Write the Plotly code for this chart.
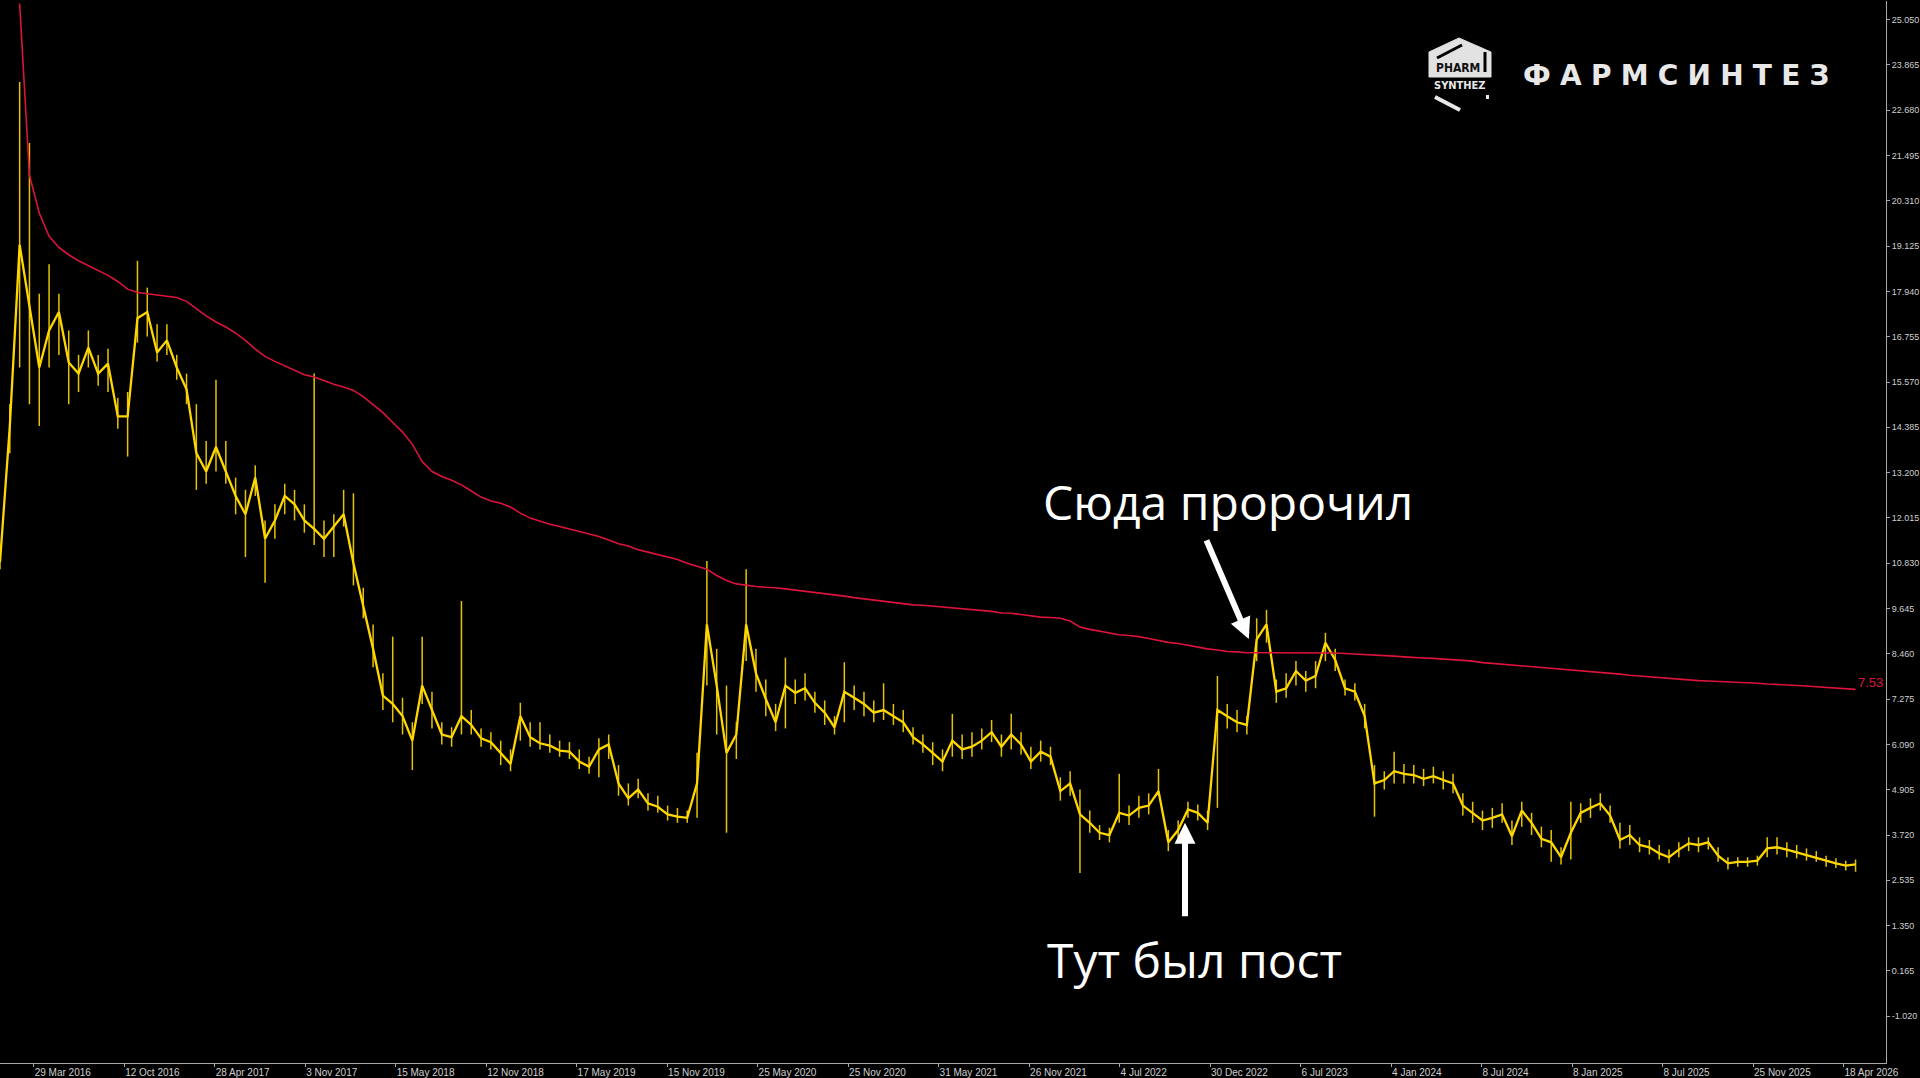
import plotly.graph_objects as go

# ---------------- data ----------------
close = [
    10.86, 14.42, 19.16, 17.56, 15.95, 16.92, 17.40, 16.08, 15.79, 16.47,
    15.79, 16.05, 14.67, 14.67, 17.24, 17.40, 16.34, 16.66, 15.95, 15.38,
    13.71, 13.23, 13.87, 13.23, 12.59, 12.11, 13.07, 11.47, 11.95, 12.59,
    12.37, 11.95, 11.73, 11.47, 11.79, 12.11, 10.83, 9.71, 8.59, 7.37,
    7.15, 6.83, 6.19, 7.63, 6.99, 6.35, 6.28, 6.83, 6.60, 6.25,
    6.15, 5.87, 5.58, 6.83, 6.28, 6.12, 6.06, 5.93, 5.90, 5.64,
    5.51, 5.96, 6.09, 5.07, 4.68, 4.91, 4.55, 4.46, 4.26, 4.20,
    4.17, 5.07, 9.23, 7.63, 5.87, 6.35, 9.23, 7.95, 7.28, 6.67,
    7.63, 7.44, 7.56, 7.18, 6.92, 6.54, 7.47, 7.31, 7.15, 6.92,
    6.99, 6.83, 6.67, 6.28, 6.09, 5.87, 5.64, 6.19, 5.96, 6.03,
    6.19, 6.41, 6.03, 6.35, 6.09, 5.64, 5.90, 5.77, 4.87, 5.07,
    4.26, 4.04, 3.78, 3.72, 4.30, 4.23, 4.43, 4.49, 4.87, 3.53,
    3.85, 4.39, 4.30, 4.04, 6.99, 6.83, 6.67, 6.60, 8.84, 9.23,
    7.47, 7.56, 8.01, 7.76, 7.88, 8.75, 8.30, 7.56, 7.47, 6.83,
    5.07, 5.16, 5.39, 5.32, 5.29, 5.19, 5.26, 5.16, 5.07, 4.49,
    4.30, 4.10, 4.17, 4.26, 3.69, 4.36, 4.04, 3.62, 3.53, 3.14,
    3.78, 4.30, 4.43, 4.55, 4.23, 3.59, 3.72, 3.46, 3.40, 3.24,
    3.14, 3.34, 3.50, 3.46, 3.53, 3.18, 2.98, 3.02, 3.02, 3.05,
    3.37, 3.40, 3.34, 3.27, 3.21, 3.14, 3.05, 2.98, 2.92, 2.95,
]
high = [
    11.16, 14.99, 23.42, 21.82, 17.88, 18.65, 17.88, 16.92, 16.28, 16.92,
    16.28, 16.44, 15.15, 15.31, 18.74, 18.04, 17.08, 17.08, 16.28, 15.79,
    14.99, 14.03, 15.63, 14.03, 13.07, 12.75, 13.39, 11.95, 12.37, 12.91,
    12.75, 12.37, 15.79, 11.95, 12.11, 12.75, 12.66, 10.19, 9.23, 7.95,
    8.91, 7.31, 6.67, 8.91, 7.47, 6.67, 6.54, 9.84, 6.99, 6.51,
    6.41, 6.19, 5.96, 7.18, 6.67, 6.67, 6.35, 6.19, 6.15, 5.96,
    5.77, 6.25, 6.35, 5.55, 5.07, 5.19, 4.81, 4.75, 4.49, 4.43,
    4.36, 5.87, 10.89, 8.59, 7.63, 6.67, 10.67, 8.59, 7.79, 7.15,
    8.36, 7.79, 7.95, 7.47, 7.24, 6.83, 8.24, 7.63, 7.47, 7.24,
    7.69, 7.15, 6.99, 6.54, 6.35, 6.15, 5.96, 6.89, 6.35, 6.41,
    6.51, 6.73, 6.35, 6.89, 6.41, 6.03, 6.19, 6.03, 5.23, 5.39,
    4.91, 4.36, 3.98, 3.91, 5.32, 4.49, 4.75, 4.81, 5.45, 3.85,
    4.10, 4.59, 4.52, 4.36, 7.88, 7.15, 6.99, 6.83, 9.39, 9.61,
    7.79, 7.95, 8.27, 8.01, 8.27, 9.01, 8.59, 7.79, 7.69, 7.15,
    5.55, 5.39, 5.90, 5.58, 5.55, 5.45, 5.51, 5.39, 5.32, 4.81,
    4.59, 4.36, 4.43, 4.55, 4.10, 4.59, 4.30, 3.94, 3.85, 3.40,
    4.59, 4.55, 4.68, 4.81, 4.49, 4.04, 3.98, 3.66, 3.59, 3.46,
    3.34, 3.53, 3.66, 3.66, 3.66, 3.40, 3.14, 3.14, 3.14, 3.18,
    3.66, 3.66, 3.53, 3.46, 3.37, 3.30, 3.18, 3.11, 3.05, 3.08,
]
low = [
    10.67, 13.71, 15.95, 14.99, 14.42, 15.95, 16.28, 14.99, 15.31, 15.95,
    15.47, 15.31, 14.35, 13.62, 16.60, 16.76, 16.11, 16.28, 15.63, 14.99,
    12.75, 12.91, 13.23, 12.91, 12.11, 10.99, 12.59, 10.32, 11.47, 12.11,
    11.95, 11.63, 11.31, 10.99, 10.99, 11.79, 10.25, 9.39, 8.11, 6.99,
    6.67, 6.35, 5.42, 7.15, 6.51, 6.09, 6.03, 6.35, 6.35, 6.03,
    5.96, 5.55, 5.39, 6.19, 6.03, 5.96, 5.87, 5.77, 5.71, 5.45,
    5.32, 5.23, 5.71, 4.75, 4.49, 4.68, 4.36, 4.30, 4.10, 4.04,
    4.04, 4.17, 7.63, 6.35, 3.78, 5.71, 8.27, 7.47, 6.83, 6.44,
    6.51, 7.15, 7.24, 6.92, 6.60, 6.35, 6.67, 6.99, 6.83, 6.67,
    6.73, 6.60, 6.41, 6.09, 5.87, 5.55, 5.39, 5.77, 5.71, 5.77,
    5.96, 6.15, 5.77, 5.96, 5.83, 5.45, 5.64, 5.55, 4.62, 4.75,
    2.73, 3.78, 3.59, 3.53, 4.04, 3.98, 4.17, 4.26, 4.75, 3.30,
    3.59, 4.17, 4.10, 3.85, 4.43, 6.51, 6.41, 6.35, 8.27, 8.75,
    7.18, 7.31, 7.63, 7.47, 7.56, 8.27, 8.01, 7.37, 7.24, 6.51,
    4.20, 4.91, 5.07, 5.07, 5.07, 5.00, 5.07, 4.91, 4.81, 4.23,
    4.04, 3.85, 3.91, 4.04, 3.46, 3.94, 3.72, 3.40, 3.02, 2.95,
    3.08, 4.04, 4.17, 4.36, 4.04, 3.37, 3.46, 3.27, 3.21, 3.08,
    2.98, 3.14, 3.30, 3.27, 3.34, 3.02, 2.82, 2.89, 2.89, 2.92,
    3.14, 3.21, 3.14, 3.11, 3.05, 3.02, 2.89, 2.86, 2.79, 2.76,
]
vwap = [
    None, None, 25.47, 20.98, 19.99, 19.38, 19.09, 18.90, 18.74, 18.61,
    18.48, 18.36, 18.20, 18.00, 17.91, 17.88, 17.84, 17.81, 17.78, 17.68,
    17.49, 17.30, 17.14, 17.01, 16.85, 16.66, 16.43, 16.24, 16.11, 15.99,
    15.86, 15.76, 15.70, 15.60, 15.51, 15.44, 15.35, 15.19, 14.99, 14.77,
    14.51, 14.26, 13.94, 13.49, 13.23, 13.10, 13.00, 12.88, 12.72, 12.56,
    12.46, 12.40, 12.30, 12.14, 12.01, 11.92, 11.85, 11.79, 11.73, 11.66,
    11.60, 11.53, 11.44, 11.34, 11.28, 11.18, 11.12, 11.05, 10.99, 10.93,
    10.83, 10.76, 10.67, 10.51, 10.38, 10.29, 10.25, 10.22, 10.20, 10.19,
    10.16, 10.13, 10.10, 10.06, 10.03, 10.00, 9.97, 9.93, 9.90, 9.87,
    9.84, 9.81, 9.77, 9.74, 9.73, 9.71, 9.68, 9.66, 9.64, 9.61,
    9.60, 9.57, 9.53, 9.52, 9.49, 9.45, 9.42, 9.41, 9.39, 9.32,
    9.16, 9.10, 9.05, 9.00, 8.96, 8.94, 8.91, 8.86, 8.81, 8.76,
    8.73, 8.68, 8.64, 8.59, 8.56, 8.52, 8.51, 8.49, 8.49, 8.49,
    8.49, 8.49, 8.49, 8.49, 8.48, 8.48, 8.48, 8.47, 8.46, 8.44,
    8.43, 8.41, 8.40, 8.38, 8.36, 8.35, 8.34, 8.33, 8.31, 8.29,
    8.27, 8.23, 8.21, 8.19, 8.17, 8.15, 8.13, 8.11, 8.09, 8.06,
    8.04, 8.02, 8.00, 7.97, 7.95, 7.93, 7.90, 7.88, 7.86, 7.84,
    7.81, 7.79, 7.77, 7.76, 7.75, 7.74, 7.72, 7.71, 7.70, 7.69,
    7.67, 7.66, 7.65, 7.63, 7.62, 7.60, 7.58, 7.56, 7.54, 7.53,
]
x_tick_labels = [
    "29 Mar 2016", "12 Oct 2016", "28 Apr 2017", "3 Nov 2017", "15 May 2018",
    "12 Nov 2018", "17 May 2019", "15 Nov 2019", "25 May 2020", "25 Nov 2020",
    "31 May 2021", "26 Nov 2021", "4 Jul 2022", "30 Dec 2022", "6 Jul 2023",
    "4 Jan 2024", "8 Jul 2024", "8 Jan 2025", "8 Jul 2025", "25 Nov 2025",
    "18 Apr 2026",
]
y_tick_labels = [
    "25.050", "23.865", "22.680", "21.495", "20.310", "19.125", "17.940",
    "16.755", "15.570", "14.385", "13.200", "12.015", "10.830", "9.645",
    "8.460", "7.275", "6.090", "4.905", "3.720", "2.535", "1.350", "0.165",
    "-1.020",
]

# ---------------- figure ----------------
idx = list(range(len(close)))
W, H = 1920, 1078
ML, MR, MT, MB = 0, 34, 1, 15
PW, PH = W - ML - MR, H - MT - MB


def px(x):
    return (x - ML) / PW


def py(y):
    return (H - MB - y) / PH


AXC = "#a8a8a8"
TXT = "#cfcfcf"
GOLD = "#ffd700"
RED = "#dc143c"

fig = go.Figure()
fig.add_trace(go.Scatter(
    x=idx, y=close, mode="lines",
    line=dict(color=GOLD, width=2.3),
    error_y=dict(type="data", symmetric=False,
                 array=[h - c for h, c in zip(high, close)],
                 arrayminus=[c - l for c, l in zip(close, low)],
                 color="#e6c300", thickness=1.5, width=0),
    hoverinfo="skip", showlegend=False,
))
fig.add_trace(go.Scatter(
    x=idx, y=vwap, mode="lines",
    line=dict(color=RED, width=1.6),
    hoverinfo="skip", showlegend=False,
))

x_max = 192.1
x_ticks = [3.43 + k * 9.217 for k in range(len(x_tick_labels))]

fig.update_layout(
    width=W, height=H, autosize=False,
    margin=dict(l=ML, r=MR, t=MT, b=MB, pad=0),
    paper_bgcolor="black", plot_bgcolor="black",
    font=dict(family="Liberation Sans, Arial, sans-serif", color=TXT, size=10),
    xaxis=dict(
        range=[0, x_max], showgrid=False, zeroline=False,
        showline=True, linecolor=AXC, linewidth=1,
        ticks="outside", ticklen=3, tickcolor=AXC, tickwidth=1,
        tickmode="array", tickvals=x_ticks, ticktext=x_tick_labels,
        ticklabelposition="outside right",
        tickfont=dict(size=10, color=TXT), automargin=False, fixedrange=True,
    ),
    yaxis=dict(
        side="right", range=[-2.243, 25.537], showgrid=False, zeroline=False,
        showline=True, linecolor=AXC, linewidth=1,
        ticks="outside", ticklen=3, tickcolor=AXC, tickwidth=1,
        tickmode="array", tickvals=[float(t) for t in y_tick_labels],
        ticktext=y_tick_labels,
        tickfont=dict(size=9, color=TXT), automargin=False, fixedrange=True,
    ),
)

big = dict(family="Open Sans, Noto Sans, sans-serif", size=48, color="white")
annotations = [
    dict(text="Сюда пророчил", x=px(1228), y=py(501), xref="paper", yref="paper",
         showarrow=False, font=big, xanchor="center", yanchor="middle"),
    dict(text="Тут был пост", x=px(1194), y=py(959), xref="paper", yref="paper",
         showarrow=False, font=big, xanchor="center", yanchor="middle"),
    # arrows
    dict(text="", x=127.2, y=8.85, xref="x", yref="y", showarrow=True,
         ax=-43, ay=-100, arrowhead=2, arrowsize=0.7, arrowwidth=6,
         arrowcolor="white", standoff=0),
    dict(text="", x=120.7, y=4.04, xref="x", yref="y", showarrow=True,
         ax=0, ay=95, arrowhead=2, arrowsize=0.7, arrowwidth=6,
         arrowcolor="white", standoff=0),
    # last value label of the red line
    dict(text=f"{vwap[-1]:.2f}", x=idx[-1], y=vwap[-1], xref="x", yref="y",
         showarrow=False, xanchor="left", yanchor="bottom", yshift=-3,
         font=dict(family="Liberation Sans, Arial", size=13, color=RED)),
    # logo texts
    dict(text="\u2004".join("ФАРМСИНТЕЗ"), x=px(1676), y=py(76), xref="paper", yref="paper",
         showarrow=False, xanchor="center", yanchor="middle",
         font=dict(family="DejaVu Sans", size=28, color="#e8e8e8", weight="bold")),
    dict(text="PHARM", x=px(1458), y=py(68), xref="paper", yref="paper",
         showarrow=False, xanchor="center", yanchor="middle",
         font=dict(family="DejaVu Sans Condensed, DejaVu Sans", size=12, color="#111111", weight="bold")),
    dict(text="SYNTHEZ", x=px(1460), y=py(86), xref="paper", yref="paper",
         showarrow=False, xanchor="center", yanchor="middle",
         font=dict(family="DejaVu Sans Condensed, DejaVu Sans", size=11, color="#e8e8e8", weight="bold")),
]
fig.update_layout(annotations=annotations)

house = (f"M {px(1429)},{py(77)} L {px(1429)},{py(52)} L {px(1459)},{py(38)} "
         f"L {px(1491)},{py(52)} L {px(1491)},{py(77)} Z")
shapes = [
    dict(type="path", path=house, xref="paper", yref="paper",
         fillcolor="#e2e2e2", line=dict(color="#e2e2e2", width=1), layer="above"),
    dict(type="line", x0=px(1437), y0=py(58), x1=px(1462), y1=py(45), xref="paper", yref="paper",
         line=dict(color="black", width=3), layer="above"),
    dict(type="line", x0=px(1485), y0=py(52), x1=px(1485), y1=py(72), xref="paper", yref="paper",
         line=dict(color="black", width=3), layer="above"),
    dict(type="line", x0=px(1435), y0=py(97), x1=px(1460), y1=py(110), xref="paper", yref="paper",
         line=dict(color="#e8e8e8", width=4), layer="above"),
    dict(type="rect", x0=px(1486), y0=py(99), x1=px(1489), y1=py(95), xref="paper", yref="paper",
         fillcolor="#e8e8e8", line=dict(width=0), layer="above"),
]
fig.update_layout(shapes=shapes)

fig.write_html("out.html", config={"displayModeBar": False, "staticPlot": True},
               post_script="document.body.style.margin='0';document.body.style.background='black';")
